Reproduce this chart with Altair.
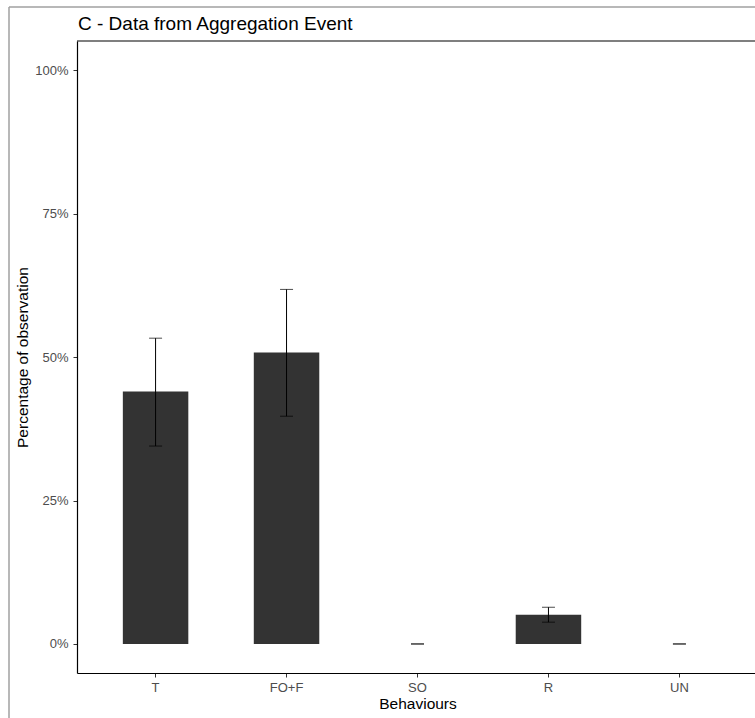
import altair as alt
import pandas as pd

categories = ["T", "FO+F", "SO", "R", "UN"]
means = [0.440, 0.508, 0.0, 0.051, 0.0]
lowers = [0.345, 0.397, 0.0, 0.038, 0.0]
uppers = [0.533, 0.618, 0.0, 0.064, 0.0]
y_ticks = [0, 0.25, 0.5, 0.75, 1.0]
title_text = ["C - Data from Aggregation Event"]

df = pd.DataFrame({"Behaviour": categories, "mean": means, "lower": lowers, "upper": uppers})

W = 681
H = 632
FONT = "Liberation Sans"

xscale = alt.Scale(domain=categories, range=[0, W], paddingInner=0.5, paddingOuter=0.35)
yscale = alt.Scale(domain=[-0.0506, 1.051], nice=False, zero=False)

xaxis = alt.Axis(title="Behaviours", labelAngle=0, labelColor="#4D4D4D", labelFontSize=13,
                 labelFont=FONT, titleFont=FONT, titleFontSize=15.5, titleFontWeight="normal",
                 titleColor="black", tickColor="#333333", tickSize=4, domainColor="black",
                 domainWidth=1.2, labelPadding=4, titlePadding=2, grid=False)
yaxis = alt.Axis(title="Percentage of observation", values=y_ticks, format=".0%",
                 labelColor="#4D4D4D", labelFontSize=13, labelFont=FONT, titleFont=FONT,
                 titleFontSize=15.5, titleFontWeight="normal", titleColor="black",
                 tickColor="#333333", tickSize=4, domainColor="black", domainWidth=1.2,
                 labelPadding=5, titlePadding=4, grid=False)

base = alt.Chart(df)

bars = base.mark_bar(color="#333333").encode(
    x=alt.X("Behaviour:N", scale=xscale, axis=xaxis, sort=categories),
    y=alt.Y("mean:Q", scale=yscale, axis=yaxis),
    y2=alt.Y2(datum=0),
)

err = base.mark_rule(color="black", strokeWidth=1).encode(
    x=alt.X("Behaviour:N", scale=xscale, sort=categories),
    y=alt.Y("lower:Q", scale=yscale),
    y2="upper:Q",
)

cap_lo = base.mark_tick(color="black", thickness=1, size=13, orient="horizontal").encode(
    x=alt.X("Behaviour:N", scale=xscale, sort=categories),
    y=alt.Y("lower:Q", scale=yscale),
)
cap_hi = base.mark_tick(color="black", thickness=1, size=13, orient="horizontal").encode(
    x=alt.X("Behaviour:N", scale=xscale, sort=categories),
    y=alt.Y("upper:Q", scale=yscale),
)

one = alt.Chart(pd.DataFrame({"t": title_text}))
top_border = one.mark_rule(color="black", strokeWidth=1.2).encode(
    x=alt.value(0), x2=alt.value(W), y=alt.value(0))
frame_left = one.mark_rule(color="#A0A0A0", strokeWidth=1.5, clip=False).encode(
    x=alt.value(-68), y=alt.value(-34), y2=alt.value(H + 60))
frame_top = one.mark_rule(color="#A0A0A0", strokeWidth=1.5, clip=False).encode(
    x=alt.value(-68), x2=alt.value(W), y=alt.value(-34))
title = one.mark_text(align="left", baseline="alphabetic", font=FONT, fontSize=19,
                      color="black").encode(
    x=alt.value(1), y=alt.value(-11), text="t:N")

chart = alt.layer(bars, err, cap_lo, cap_hi, top_border, frame_left, frame_top, title).properties(
    width=678,
    height=H,
    autosize=alt.AutoSizeParams(type="none"),
    padding={"left": 77, "top": 41, "right": 0, "bottom": 45},
    background="white",
).configure_view(stroke=None)

chart.save("out.html", embed_options={"renderer": "svg", "actions": False})
